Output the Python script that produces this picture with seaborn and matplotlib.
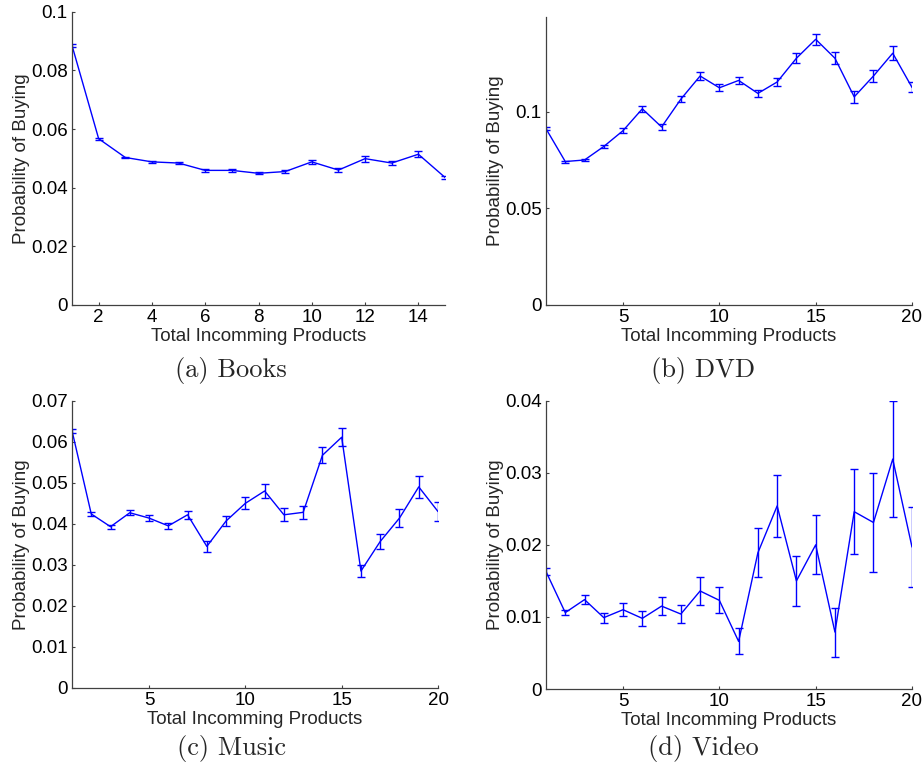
import matplotlib
matplotlib.use("Agg")
from matplotlib import pyplot as plt
from matplotlib.ticker import FormatStrFormatter
import numpy as np
import pandas as pd
import seaborn as sn

# ----- Datos -----
x_books = list(range(1, 16))
p_books = [0.0885, 0.0567, 0.0503, 0.0488, 0.0484, 0.0459, 0.0459, 0.0449,
           0.0455, 0.0488, 0.0460, 0.0499, 0.0484, 0.0514, 0.0435]
e_books = [0.0004, 0.0003, 0.0003, 0.0003, 0.0003, 0.0004, 0.0004, 0.0004,
           0.0005, 0.0008, 0.0007, 0.0010, 0.0008, 0.0010, 0.0006]

x_dvd = list(range(1, 21))
p_dvd = [0.0913, 0.0743, 0.0751, 0.0821, 0.0903, 0.1016, 0.0922, 0.1066,
         0.1186, 0.1125, 0.1163, 0.1096, 0.1155, 0.1278, 0.1376, 0.1278,
         0.1078, 0.1186, 0.1304, 0.1127]
e_dvd = [0.0009, 0.0005, 0.0007, 0.0009, 0.0012, 0.0014, 0.0016, 0.0016,
         0.0020, 0.0017, 0.0019, 0.0020, 0.0023, 0.0026, 0.0030, 0.0030,
         0.0030, 0.0030, 0.0037, 0.0026]

x_music = list(range(1, 21))
p_music = [0.0627, 0.0424, 0.0393, 0.0427, 0.0414, 0.0395, 0.0422, 0.0345,
           0.0407, 0.0450, 0.0480, 0.0422, 0.0428, 0.0567, 0.0611, 0.0285,
           0.0357, 0.0414, 0.0490, 0.0430]
e_music = [0.0005, 0.0004, 0.0005, 0.0006, 0.0007, 0.0008, 0.0010, 0.0013,
           0.0013, 0.0015, 0.0016, 0.0016, 0.0016, 0.0020, 0.0022, 0.0015,
           0.0019, 0.0022, 0.0027, 0.0023]

x_video = list(range(1, 21))
p_video = [0.0163, 0.0106, 0.0124, 0.0099, 0.0110, 0.0098, 0.0115, 0.0104,
           0.0136, 0.0123, 0.0066, 0.0189, 0.0254, 0.0150, 0.0200, 0.0079,
           0.0246, 0.0231, 0.0319, 0.0197]
e_video = [0.0005, 0.0004, 0.0006, 0.0007, 0.0009, 0.0010, 0.0013, 0.0013,
           0.0020, 0.0018, 0.0018, 0.0034, 0.0043, 0.0035, 0.0041, 0.0034,
           0.0059, 0.0068, 0.0081, 0.0056]

captions = ['(a) Books', '(b) DVD', '(c) Music', '(d) Video']
xlabel = 'Total Incomming Products'
ylabel = 'Probability of Buying'

# ----- Estilo -----
sn.set_theme(style='ticks')
plt.rcParams['font.family'] = ['Liberation Sans', 'DejaVu Sans']
plt.rcParams.update({
    'font.size': 13.5,
    'xtick.labelsize': 13.5,
    'ytick.labelsize': 13.5,
    'xtick.direction': 'in',
    'ytick.direction': 'in',
    'xtick.major.size': 2.5,
    'ytick.major.size': 2.5,
    'xtick.major.width': 0.8,
    'ytick.major.width': 0.8,
    'xtick.major.pad': 3,
    'ytick.major.pad': 3,
    'axes.edgecolor': '#404040',
    'xtick.color': '#404040',
    'ytick.color': '#404040',
    'xtick.labelcolor': 'black',
    'ytick.labelcolor': 'black',
    'axes.linewidth': 0.9,
})

W, H = 923, 771
fig = plt.figure(figsize=(W / 100, H / 100), dpi=100)


def px_axes(left, right, top, bottom):
    return fig.add_axes([left / W, 1 - bottom / H, (right - left) / W, (bottom - top) / H])


axes = [px_axes(72, 445, 11.7, 305),
        px_axes(546, 912, 17.3, 305),
        px_axes(72, 438, 400.7, 688),
        px_axes(546, 912, 400.7, 689)]

series = [(x_books, p_books, e_books), (x_dvd, p_dvd, e_dvd),
          (x_music, p_music, e_music), (x_video, p_video, e_video)]
xlims = [(1, 15), (1, 20), (1, 20), (1, 20)]
ylims = [(0, 0.1), (0, 0.149), (0, 0.07), (0, 0.04)]
xticks = [np.arange(2, 15, 2), [5, 10, 15, 20], [5, 10, 15, 20], [5, 10, 15, 20]]
yticks = [np.arange(0, 0.101, 0.02), [0, 0.05, 0.1], np.arange(0, 0.0701, 0.01), np.arange(0, 0.0401, 0.01)]
cap_pos = [(231, 370), (703, 370), (232, 749), (703, 749)]

for ax, (xs, ps, es), xl, yl, xt, yt, cap, cp in zip(axes, series, xlims, ylims, xticks, yticks, captions, cap_pos):
    df = pd.DataFrame({'x': xs, 'p': ps})
    sn.lineplot(data=df, x='x', y='p', ax=ax, color='#0000ff', linewidth=1.0)
    ax.errorbar(xs, ps, yerr=es, fmt='none', ecolor='#0000ff', elinewidth=1.0,
                capsize=2.8, capthick=1.0)
    ax.set_xlim(xl)
    ax.set_ylim(yl)
    ax.set_xticks(xt)
    ax.set_yticks(yt)
    ax.yaxis.set_major_formatter(FormatStrFormatter('%g'))
    ax.xaxis.set_major_formatter(FormatStrFormatter('%g'))
    ax.set_xlabel(xlabel, fontsize=13.5, labelpad=1)
    ax.set_ylabel(ylabel, fontsize=13.5, labelpad=1)
    sn.despine(ax=ax)
    fig.text(cp[0] / W, 1 - cp[1] / H, cap, family='cmr10', fontsize=19,
             ha='center', va='center')

plt.savefig('out.png', dpi=100)
